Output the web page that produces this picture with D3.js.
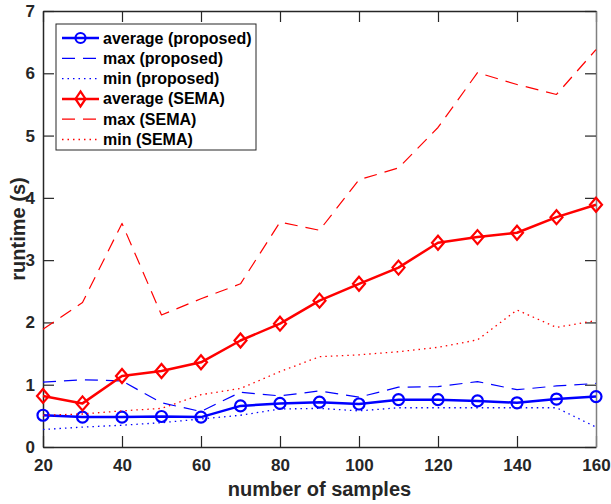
<!DOCTYPE html>
<html>
<head>
<meta charset="utf-8">
<script src="https://cdn.jsdelivr.net/npm/d3@7"></script>
<style>
  body { margin: 0; background: #fff; }
  svg { font-family: "Liberation Sans", Arial, sans-serif; font-weight: bold; }
</style>
</head>
<body>
<svg width="611" height="504"></svg>
<script>
// sample counts on x
const samples = [20, 30, 40, 50, 60, 70, 80, 90, 100, 110, 120, 130, 140, 150, 160];

// runtime (s)
const avgProposed = [0.51, 0.48, 0.48, 0.49, 0.48, 0.66, 0.70, 0.72, 0.69, 0.76, 0.76, 0.74, 0.71, 0.77, 0.81];
const maxProposed = [1.04, 1.08, 1.06, 0.71, 0.57, 0.88, 0.82, 0.90, 0.80, 0.96, 0.97, 1.05, 0.92, 0.98, 1.02];
const minProposed = [0.28, 0.32, 0.35, 0.39, 0.45, 0.51, 0.61, 0.62, 0.58, 0.63, 0.63, 0.63, 0.63, 0.63, 0.32];
const avgSema = [0.82, 0.70, 1.14, 1.22, 1.36, 1.71, 1.98, 2.35, 2.62, 2.88, 3.28, 3.37, 3.44, 3.69, 3.89];
const maxSema = [1.89, 2.32, 3.59, 2.12, 2.38, 2.62, 3.61, 3.48, 4.29, 4.48, 5.13, 6.01, 5.82, 5.66, 6.38];
const minSema = [0.51, 0.53, 0.58, 0.62, 0.84, 0.94, 1.21, 1.45, 1.48, 1.53, 1.60, 1.72, 2.20, 1.92, 2.03];

const xTicks = [20, 40, 60, 80, 100, 120, 140, 160];
const yTicks = [0, 1, 2, 3, 4, 5, 6, 7];

const series = [
  { name: 'average (proposed)', values: avgProposed, color: '#0000ff', style: 'solid', marker: 'circle' },
  { name: 'max (proposed)', values: maxProposed, color: '#0000ff', style: 'dashed' },
  { name: 'min (proposed)', values: minProposed, color: '#0000ff', style: 'dotted' },
  { name: 'average (SEMA)', values: avgSema, color: '#ff0000', style: 'solid', marker: 'diamond' },
  { name: 'max (SEMA)', values: maxSema, color: '#ff0000', style: 'dashed' },
  { name: 'min (SEMA)', values: minSema, color: '#ff0000', style: 'dotted' }
];

const margin = { top: 11, right: 15, bottom: 57, left: 43 };
const width = 611 - margin.left - margin.right;
const height = 504 - margin.top - margin.bottom;
const axisColor = '#262626';

const svg = d3.select('svg');
const g = svg.append('g').attr('transform', `translate(${margin.left},${margin.top})`);

const x = d3.scaleLinear().domain([20, 160]).range([0, width]);
const y = d3.scaleLinear().domain([0, 7]).range([height, 0]);

const strokeStyle = {
  solid: { w: 2.5, dash: null },
  dashed: { w: 1.2, dash: '13,8' },
  dotted: { w: 1.3, dash: '1.5,4' }
};

function drawMarker(sel, type, hw, hh, color) {
  if (type === 'circle') {
    sel.append('circle').attr('r', hw).attr('fill', 'none')
      .attr('stroke', color).attr('stroke-width', 2.2);
  } else if (type === 'diamond') {
    sel.append('path').attr('d', `M0,${-hh}L${hw},0L0,${hh}L${-hw},0Z`)
      .attr('fill', 'none').attr('stroke', color).attr('stroke-width', 2.2);
  }
}

// axes (inward ticks on all four sides)
const xAxis = g.append('g').attr('transform', `translate(0,${height})`)
  .call(d3.axisBottom(x).tickValues(xTicks).tickSizeInner(-11).tickSizeOuter(0));
xAxis.selectAll('text').attr('y', 24).attr('dy', 0).style('font-size', '17px');

const yAxis = g.append('g')
  .call(d3.axisLeft(y).tickValues(yTicks).tickFormat(d3.format('d'))
    .tickSizeInner(-11).tickSizeOuter(0).tickPadding(8));
yAxis.selectAll('text').style('font-size', '17px');

g.append('g')
  .call(d3.axisTop(x).tickValues(xTicks).tickSizeInner(-11).tickSizeOuter(0).tickFormat(''));
const rightAxis = g.append('g').attr('transform', `translate(${width},0)`)
  .call(d3.axisRight(y).tickValues(yTicks).tickSizeInner(-11).tickSizeOuter(0).tickFormat(''));

g.selectAll('.domain').attr('stroke', axisColor).attr('stroke-width', 1.5);
g.selectAll('.tick line').attr('stroke', axisColor).attr('stroke-width', 1.2);
g.selectAll('.tick text').attr('fill', axisColor).style('font-family', null);
rightAxis.select('.domain').attr('stroke', '#808080');

// data lines
const line = d3.line().x((d, i) => x(samples[i])).y(d => y(d));

series.forEach(s => {
  const st = strokeStyle[s.style];
  g.append('path').datum(s.values)
    .attr('d', line)
    .attr('fill', 'none')
    .attr('stroke', s.color)
    .attr('stroke-width', st.w)
    .attr('stroke-dasharray', st.dash)
    .attr('stroke-linejoin', 'round');
  if (s.marker) {
    g.selectAll(null).data(s.values).enter().append('g')
      .attr('transform', (d, i) => `translate(${x(samples[i])},${y(d)})`)
      .each(function () {
        drawMarker(d3.select(this), s.marker, s.marker === 'circle' ? 5.5 : 6, s.marker === 'circle' ? 5.5 : 7, s.color);
      });
  }
});

// axis labels
svg.append('text')
  .attr('x', margin.left + width / 2).attr('y', 496)
  .attr('text-anchor', 'middle').attr('fill', axisColor)
  .style('font-size', '20px')
  .text('number of samples');

svg.append('text')
  .attr('transform', `translate(25,${margin.top + height / 2}) rotate(-90)`)
  .attr('text-anchor', 'middle').attr('fill', axisColor)
  .style('font-size', '20px')
  .text('runtime (s)');

// legend
const legend = svg.append('g').attr('transform', 'translate(56,24)');
legend.append('rect').attr('width', 200).attr('height', 126)
  .attr('fill', '#fff').attr('stroke', axisColor).attr('stroke-width', 1);

series.forEach((s, i) => {
  const st = strokeStyle[s.style];
  const row = legend.append('g').attr('transform', `translate(0,${14 + i * 20.3})`);
  row.append('line').attr('x1', 6).attr('x2', 43).attr('y1', 0).attr('y2', 0)
    .attr('stroke', s.color).attr('stroke-width', st.w).attr('stroke-dasharray', st.dash);
  if (s.marker) {
    const m = row.append('g').attr('transform', 'translate(24.5,0)');
    drawMarker(m, s.marker, 5, s.marker === 'circle' ? 5 : 7.5, s.color);
  }
  row.append('text').attr('x', 47).attr('y', 5.5)
    .attr('fill', '#000').style('font-size', '16px')
    .text(s.name);
});
</script>
</body>
</html>
